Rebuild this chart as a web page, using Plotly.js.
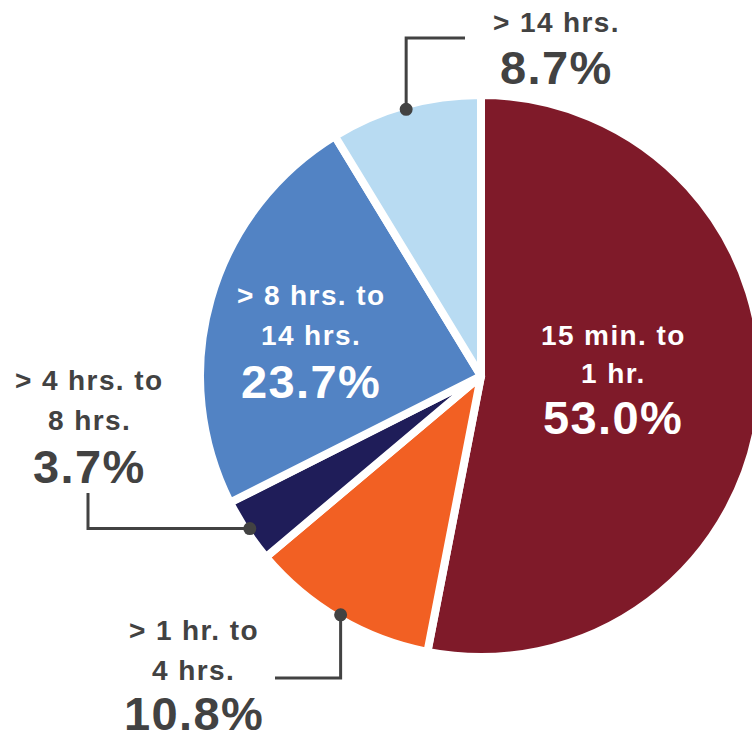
<!DOCTYPE html>
<html>
<head>
<meta charset="utf-8">
<script src="https://cdn.plot.ly/plotly-3.0.1.min.js"></script>
<style>
  html, body { margin: 0; padding: 0; overflow: hidden; background: #fff; }
  #chart { width: 770px; height: 736px; }
  .annotation-text { letter-spacing: 1.4px; }
</style>
</head>
<body>
<div id="chart"></div>
<script>
// ---- data ----
const categories = ["15 min. to 1 hr.", "> 1 hr. to 4 hrs.", "> 4 hrs. to 8 hrs.", "> 8 hrs. to 14 hrs.", "> 14 hrs."];
const labelLines = [["15 min. to", "1 hr."], ["> 1 hr. to", "4 hrs."], ["> 4 hrs. to", "8 hrs."], ["> 8 hrs. to", "14 hrs."], ["> 14 hrs."]];
const values = [53.0, 10.8, 3.7, 23.7, 8.7];
const colors = ["#7f1a29", "#f26023", "#1f1d59", "#5283c4", "#b8dbf2"];

// ---- layout geometry (pixels) ----
const W = 770, H = 736;
const CX = 481, CY = 376, R = 281, EDGE = 8;
const px = x => x / W, py = y => 1 - y / H;
const DARK = "#424242";
const FONT = "Liberation Sans, Arial, sans-serif";

const total = values.reduce((a, b) => a + b, 0);
// mid angle (clockwise from 12 o'clock) of each slice
const mids = [];
let cum = 0;
values.forEach(v => { mids.push((cum + v / 2) / total * 2 * Math.PI); cum += v; });
const edgePoint = (i, r) => [CX + r * Math.sin(mids[i]), CY - r * Math.cos(mids[i])];

const trace = {
  type: "pie",
  labels: categories,
  values: values,
  sort: false,
  direction: "clockwise",
  rotation: 0,
  textinfo: "none",
  hoverinfo: "label+percent",
  marker: { colors: colors, line: { color: "#ffffff", width: EDGE } },
  domain: { x: [px(CX - R), px(CX + R)], y: [py(CY + R), py(CY - R)] }
};

const annotations = [];
function addText(text, size, color, cx, baseline) {
  annotations.push({
    text: text, showarrow: false, xref: "paper", yref: "paper",
    x: px(cx), y: py(baseline - 0.34 * size), xanchor: "center", yanchor: "middle",
    font: { family: FONT, size: size, color: color, weight: "bold" }
  });
}
// label placement: [center x, first baseline, line step, pct baseline, color]
const place = [
  [613, 345, 38, 433, "#ffffff"],
  [194, 640, 40, 729, DARK],
  [89, 390, 40, 482, DARK],
  [311, 305, 40, 397, "#ffffff"],
  [556, 32, 0, 83, DARK]
];
labelLines.forEach((lines, i) => {
  const p = place[i];
  lines.forEach((t, k) => addText(t, 28, p[4], p[0], p[1] + k * p[2]));
  addText(values[i].toFixed(1) + "%", 47, p[4], p[0], p[3]);
});

// leader lines: dot on slice edge at mid-angle, then elbow path
const shapes = [];
function leader(i, path) {
  const [dx, dy] = edgePoint(i, R - EDGE / 2);
  const pts = [[dx, dy]].concat(path(dx, dy));
  shapes.push({
    type: "path", xref: "paper", yref: "paper",
    path: "M" + pts.map(p => px(p[0]) + "," + py(p[1])).join(" L"),
    line: { color: DARK, width: 3 }
  });
  shapes.push({
    type: "circle", xref: "paper", yref: "paper", xsizemode: "pixel", ysizemode: "pixel",
    xanchor: px(dx), yanchor: py(dy), x0: -6.5, x1: 6.5, y0: -6.5, y1: 6.5,
    fillcolor: DARK, line: { width: 0 }
  });
}
leader(4, (x, y) => [[x, 38], [465, 38]]);
leader(2, (x, y) => [[88, y], [88, 493]]);
leader(1, (x, y) => [[x, 678], [275, 678]]);

const layout = {
  width: W, height: H,
  margin: { l: 0, r: 0, t: 0, b: 0 },
  paper_bgcolor: "#ffffff", plot_bgcolor: "#ffffff",
  showlegend: false,
  annotations: annotations,
  shapes: shapes
};

Plotly.newPlot("chart", [trace], layout, { displayModeBar: false, staticPlot: true });
</script>
</body>
</html>
